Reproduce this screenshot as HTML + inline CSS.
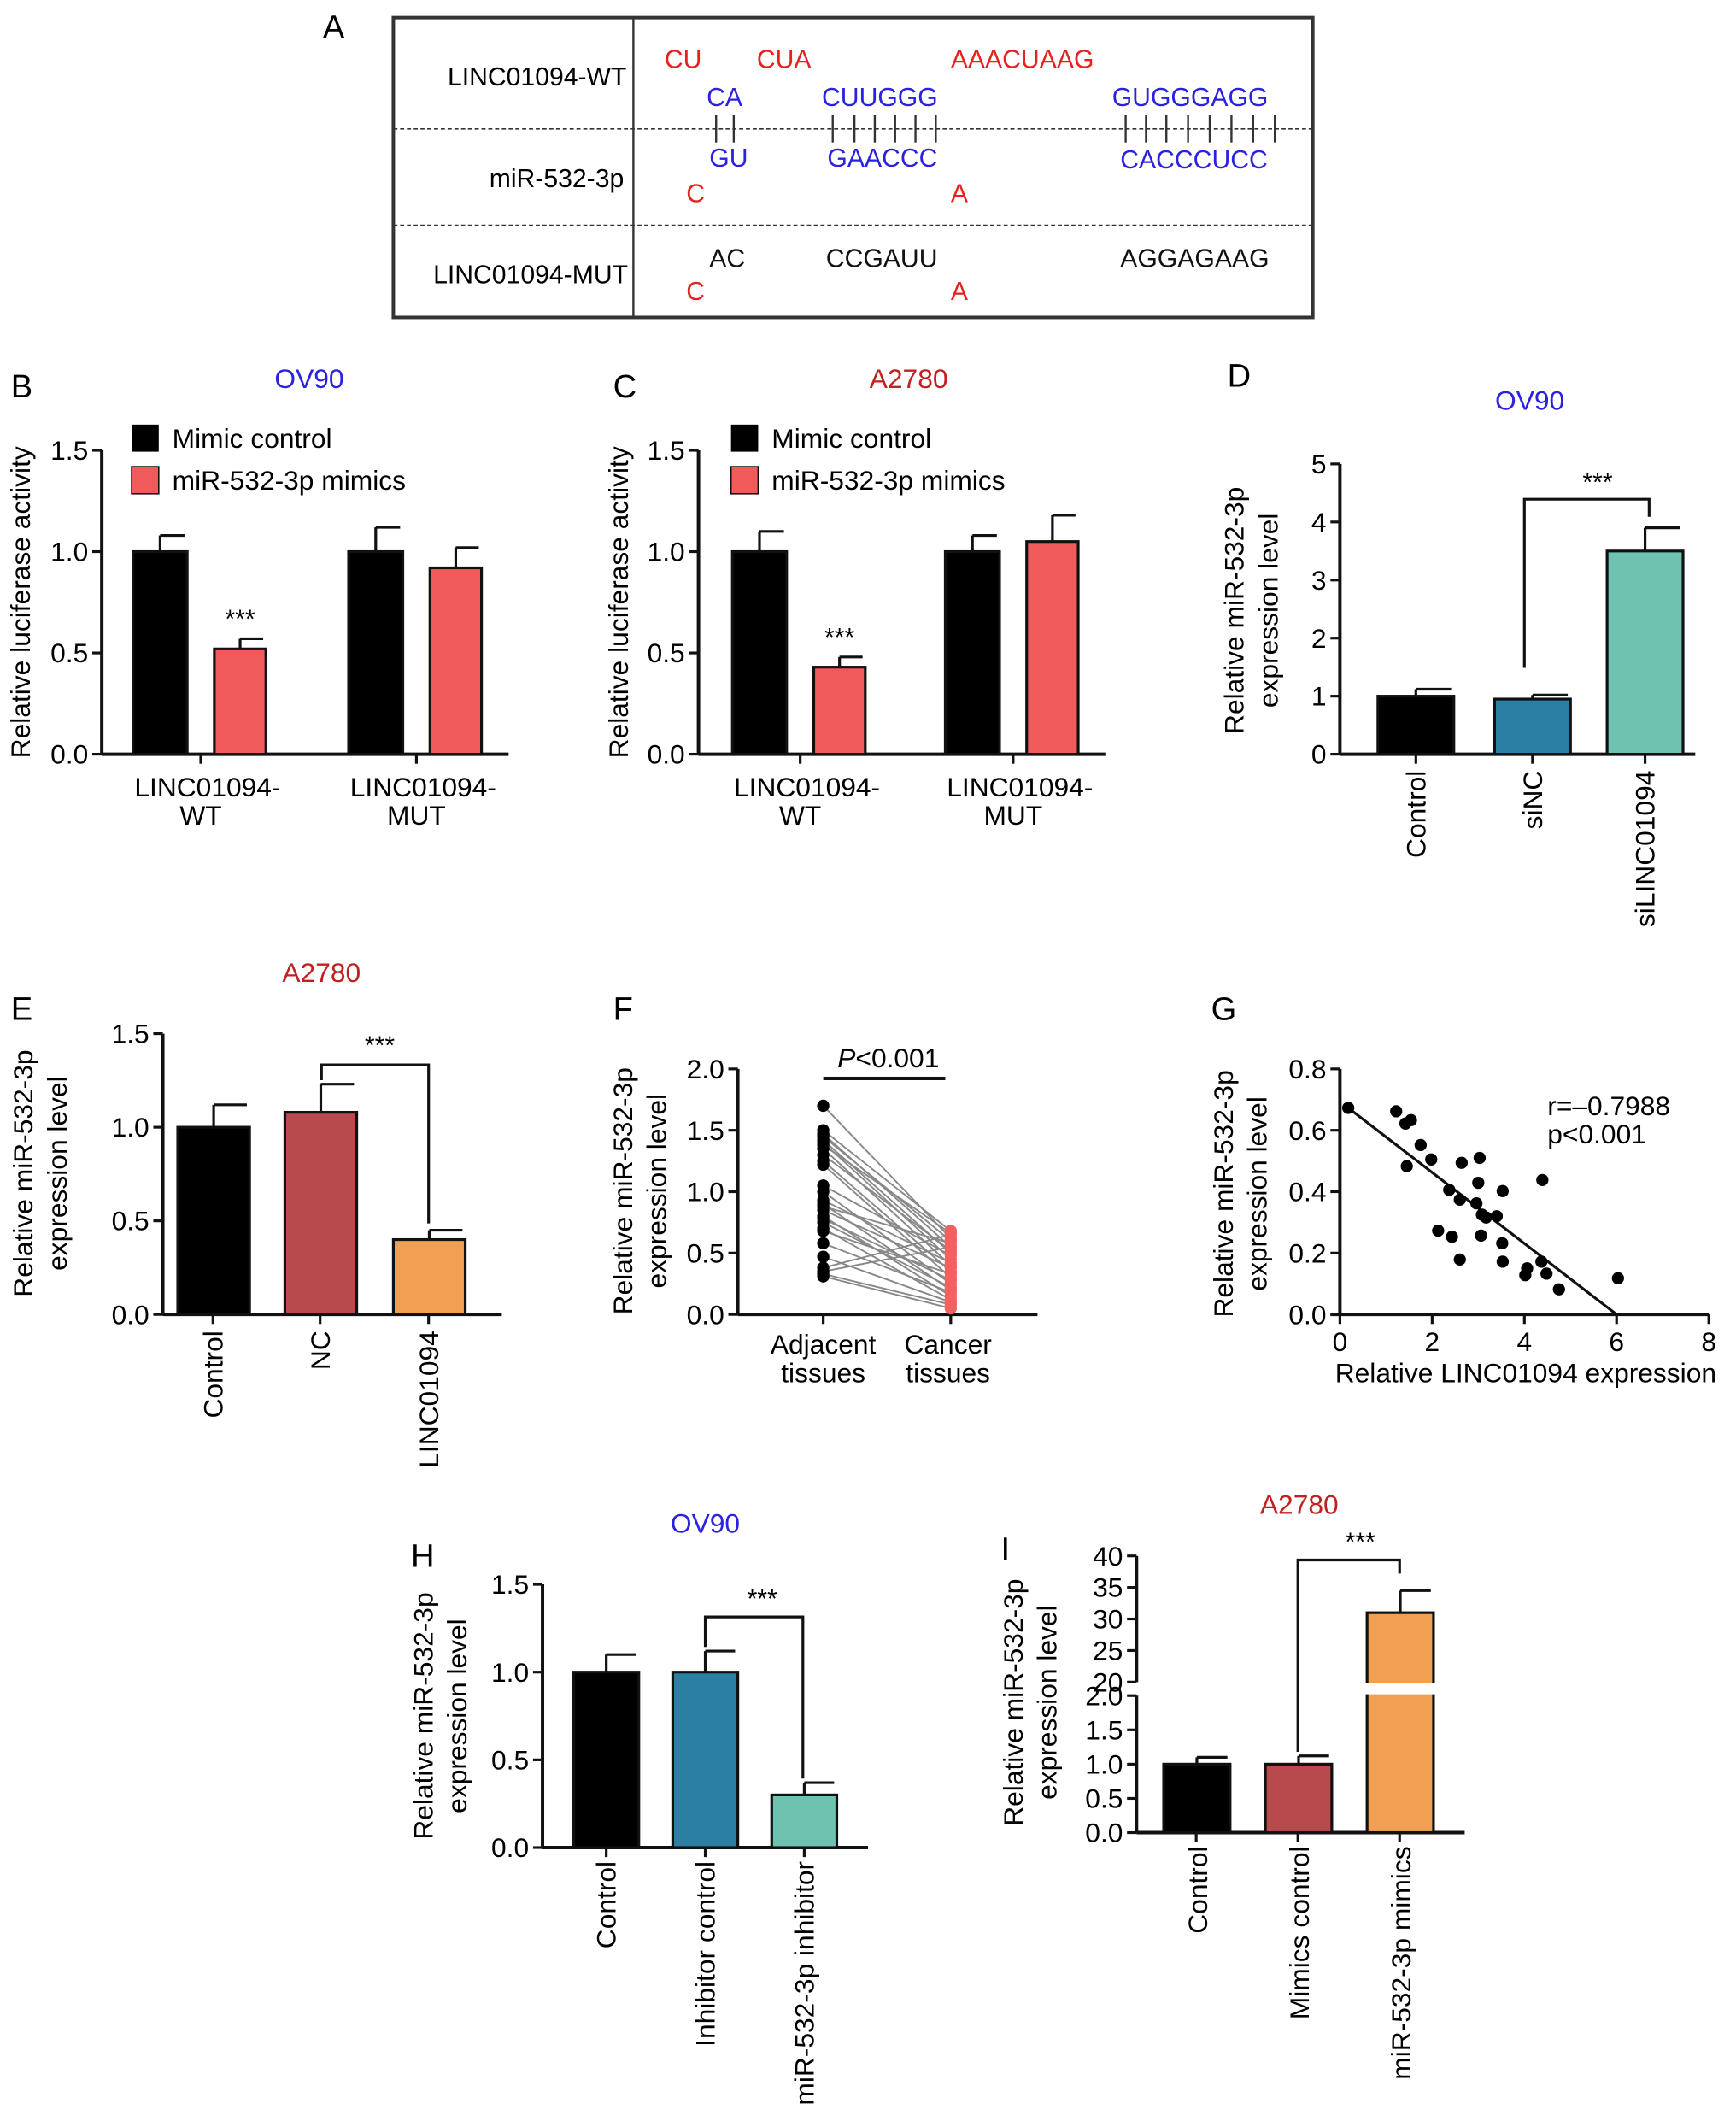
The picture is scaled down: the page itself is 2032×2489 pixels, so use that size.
<!DOCTYPE html>
<html><head><meta charset="utf-8"><style>
html,body{margin:0;padding:0;background:#fff;}
svg{display:block;font-family:"Liberation Sans",Arial,sans-serif;}
</style></head><body>
<svg id="fig" width="2032" height="2489" viewBox="0 0 1280 1568" xmlns="http://www.w3.org/2000/svg">
<g font-size="19">
<text x="238" y="28" font-size="24">A</text>
<rect x="290" y="13" width="678" height="221" fill="none" stroke="#333" stroke-width="2.5"/>
<line x1="467" y1="13" x2="467" y2="234" stroke="#333" stroke-width="1.5"/>
<line x1="290" y1="95" x2="968" y2="95" stroke="#333" stroke-dasharray="3,2"/>
<line x1="290" y1="166" x2="968" y2="166" stroke="#333" stroke-dasharray="3,2"/>
<text x="462" y="63" text-anchor="end">LINC01094-WT</text>
<text x="460" y="138" text-anchor="end">miR-532-3p</text>
<text x="463" y="209" text-anchor="end">LINC01094-MUT</text>
<g fill="#e8201f"><text x="490" y="50">CU</text><text x="558" y="50">CUA</text><text x="701" y="50">AAACUAAG</text>
<text x="506" y="149">C</text><text x="701" y="149">A</text><text x="506" y="221">C</text><text x="701" y="221">A</text></g>
<g fill="#2a22e0"><text x="521" y="78">CA</text><text x="606" y="78">CUUGGG</text><text x="820" y="78">GUGGGAGG</text>
<text x="523" y="123">GU</text><text x="610" y="123">GAACCC</text><text x="826" y="124">CACCCUCC</text></g>
<g fill="#111"><text x="523" y="197">AC</text><text x="609" y="197">CCGAUU</text><text x="826" y="197">AGGAGAAG</text></g>
<g stroke="#333" stroke-width="1.5" id="pairs"></g>
</g>
<g id="charts"></g>
</svg>
<script>
// ---- data arrays ----
const groupsB=["LINC01094-WT","LINC01094-MUT"];
const bControl=[1.0,1.0], bControlErr=[0.08,0.12];
const bMimic=[0.52,0.92], bMimicErr=[0.05,0.10];
const cControl=[1.0,1.0], cControlErr=[0.10,0.08];
const cMimic=[0.43,1.05], cMimicErr=[0.05,0.13];
const dCats=["Control","siNC","siLINC01094"], dVals=[1.0,0.95,3.5], dErr=[0.12,0.07,0.4];
const eCats=["Control","NC","LINC01094"], eVals=[1.0,1.08,0.40], eErr=[0.12,0.15,0.05];
const fAdj=[1.70,1.50,1.47,1.45,1.42,1.40,1.38,1.35,1.30,1.25,1.22,1.05,1.00,0.93,0.90,0.88,0.85,0.80,0.78,0.75,0.70,0.68,0.58,0.47,0.38,0.35,0.33,0.31];
const fCan=[0.62,0.68,0.55,0.60,0.50,0.45,0.66,0.40,0.52,0.35,0.30,0.48,0.25,0.42,0.20,0.58,0.38,0.15,0.28,0.22,0.12,0.33,0.18,0.10,0.65,0.55,0.08,0.05];
const gX=[0.18,1.22,1.42,1.54,1.75,1.98,1.45,2.64,3.03,3.0,4.39,2.37,2.6,2.96,3.08,3.17,3.4,3.53,2.13,2.43,3.06,3.52,2.6,3.53,4.37,4.06,4.02,4.48,4.75,6.03];
const gY=[0.673,0.662,0.622,0.633,0.552,0.505,0.483,0.494,0.510,0.429,0.438,0.406,0.374,0.362,0.325,0.316,0.320,0.402,0.273,0.253,0.257,0.232,0.179,0.172,0.172,0.150,0.128,0.133,0.082,0.118];
const gFit=[[0.18,0.673],[6.0,0.0]];
const hCats=["Control","Inhibitor control","miR-532-3p inhibitor"], hVals=[1.0,1.0,0.30], hErr=[0.10,0.12,0.07];
const iCats=["Control","Mimics control","miR-532-3p mimics"], iVals=[1.0,1.0,31.0], iErr=[0.1,0.12,3.5];
const ticks15=["0.0","0.5","1.0","1.5"];

const NS="http://www.w3.org/2000/svg";
const root=document.getElementById('charts');
function el(tag,attrs,parent,txt){const e=document.createElementNS(NS,tag);for(const k in attrs)e.setAttribute(k,attrs[k]);if(txt!==undefined)e.textContent=txt;(parent||root).appendChild(e);return e;}
function grp(name){const g=el('g',{});return g;}
const K="#111",SW=2.5;

const pairs=document.getElementById('pairs');
[528,541,614,630,645,660,675,690,830,845,860,876,892,908,924,940].forEach(x=>el('line',{x1:x,y1:85,x2:x,y2:105},pairs));

function yAxis(g,x,y0,y1,vmin,vmax,labels){
  el('line',{x1:x,y1:y0,x2:x,y2:y1,stroke:K,'stroke-width':SW},g);
  const sc=v=>y0-(v-vmin)/(vmax-vmin)*(y0-y1);
  labels.forEach((l,i)=>{const v=vmin+(vmax-vmin)*i/(labels.length-1);const y=sc(v);
    el('line',{x1:x-7,y1:y,x2:x,y2:y,stroke:K,'stroke-width':2},g);
    const t=el('text',{x:x-10,y:y+7,'text-anchor':'end','font-size':20},g,l);
    });
  return sc;
}
function bar(g,x0,x1,sc,v,e,color,name){
  const r=el('rect',{x:x0,y:sc(v),width:x1-x0,height:sc(0)-sc(v),fill:color,stroke:K,'stroke-width':2},g);
  
  const xm=(x0+x1)/2,ye=sc(v+e);
  el('line',{x1:xm,y1:sc(v),x2:xm,y2:ye,stroke:K,'stroke-width':2},g);
  el('line',{x1:xm,y1:ye,x2:x1-2,y2:ye,stroke:K,'stroke-width':2},g);
}
function txt(g,x,y,s,opts,name){const t=el('text',Object.assign({x:x,y:y,'font-size':19},opts||{}),g,s);return t;}
function ylab(g,x,y,lines){lines.forEach((l,i)=>txt(g,x+i*25,y,l,{transform:`rotate(-90 ${x+i*25} ${y})`,'text-anchor':'middle','font-size':20},'y-axis-title'));}
function rotLab(g,x,y,s){txt(g,x,y,s,{transform:`rotate(-90 ${x} ${y})`,'text-anchor':'end','font-size':20},'x-tick-label');}
function bracket(g,xa,ya,yt,xb,yb,sx,sy){el('polyline',{points:`${xa},${ya} ${xa},${yt} ${xb},${yt} ${xb},${yb}`,fill:'none',stroke:K,'stroke-width':2},g);txt(g,sx,sy,'***',{'text-anchor':'middle','font-size':19},'significance');}

// ---- B & C ----
function lucPanel(name,letter,lx,title,tcx,tcol,ax,axEnd,ylx,bx,ctl,ctlE,mim,mimE){
  const g=grp(name);
  txt(g,lx,293,letter,{'font-size':24},'panel-letter');
  txt(g,tcx,286,title,{'text-anchor':'middle','font-size':20,fill:tcol},'panel-title');
  const sc=yAxis(g,ax,556,332,0,1.5,ticks15);
  el('line',{x1:ax,y1:556,x2:axEnd,y2:556,stroke:K,'stroke-width':SW},g);
  groupsB.forEach((c,i)=>{
    bar(g,bx[i],bx[i]+40,sc,ctl[i],ctlE[i],'#000','bar-control-'+i);
    bar(g,bx[i]+60,bx[i]+98,sc,mim[i],mimE[i],'#f05a5a','bar-mimics-'+i);
    const xm=bx[i]+50;
    el('line',{x1:xm,y1:556,x2:xm,y2:563,stroke:K,'stroke-width':2},g);
    const p=c.split('-');
    txt(g,xm+5,587,p[0]+'-',{'text-anchor':'middle','font-size':20},'x-tick-label');
    txt(g,xm,608,p[1],{'text-anchor':'middle','font-size':20},'x-tick-label');
  });
  txt(g,bx[0]+79,sc(mim[0]+mimE[0])-8,'***',{'text-anchor':'middle'},'significance');
  el('rect',{x:bx[0]-1,y:313,width:20,height:20,fill:'#000'},g);
  txt(g,bx[0]+29,330,'Mimic control',{'font-size':20},'legend-entry');
  el('rect',{x:bx[0]-1,y:344,width:20,height:20,fill:'#f05a5a',stroke:K},g);
  txt(g,bx[0]+29,361,'miR-532-3p mimics',{'font-size':20},'legend-entry');
  txt(g,ylx,444,'Relative luciferase activity',{transform:`rotate(-90 ${ylx} 444)`,'text-anchor':'middle','font-size':20},'y-axis-title');
}
lucPanel('panel-b','B',8,'OV90',228,'#2a22e0',75,375,22,[98,257],bControl,bControlErr,bMimic,bMimicErr);
lucPanel('panel-c','C',452,'A2780',670,'#c0201f',515,815,463,[540,697],cControl,cControlErr,cMimic,cMimicErr);

// ---- D ----
(function(){const g=grp('panel-d');
 txt(g,905,285,'D',{'font-size':24},'panel-letter');
 txt(g,1128,302,'OV90',{'text-anchor':'middle','font-size':20,fill:'#2a22e0'},'panel-title');
 const sc=yAxis(g,988,556,342,0,5,["0","1","2","3","4","5"]);
 el('line',{x1:988,y1:556,x2:1250,y2:556,stroke:K,'stroke-width':SW},g);
 const cols=['#000','#2a7fa3','#6fc1b0'],xs=[1016,1102,1185];
 dCats.forEach((c,i)=>{bar(g,xs[i],xs[i]+56,sc,dVals[i],dErr[i],cols[i],'bar-'+c);rotLab(g,xs[i]+35,568,c);
   el('line',{x1:xs[i]+28,y1:556,x2:xs[i]+28,y2:563,stroke:K,'stroke-width':2},g);});
 bracket(g,1124,sc(dVals[1]+dErr[1])-20,368,1216,381,1178,362);
 ylab(g,917,450,['Relative miR-532-3p','expression level']);
})();

// ---- E ----
(function(){const g=grp('panel-e');
 txt(g,8,752,'E',{'font-size':24},'panel-letter');
 txt(g,237,724,'A2780',{'text-anchor':'middle','font-size':20,fill:'#c0201f'},'panel-title');
 const sc=yAxis(g,120,969,762,0,1.5,ticks15);
 el('line',{x1:120,y1:969,x2:370,y2:969,stroke:K,'stroke-width':SW},g);
 const cols=['#000','#b84a4e','#f0a050'],xs=[131,210,290];
 eCats.forEach((c,i)=>{bar(g,xs[i],xs[i]+53,sc,eVals[i],eErr[i],cols[i],'bar-'+c);rotLab(g,xs[i]+33,981,c);
   el('line',{x1:xs[i]+26,y1:969,x2:xs[i]+26,y2:976,stroke:K,'stroke-width':2},g);});
 bracket(g,237,sc(eVals[1]+eErr[1])-3,785,316,sc(eVals[2]+eErr[2])-5,280,777);
 ylab(g,24,865,['Relative miR-532-3p','expression level']);
})();

// ---- F ----
(function(){const g=grp('panel-f');
 txt(g,452,752,'F',{'font-size':24},'panel-letter');
 const sc=yAxis(g,544,969,788,0,2,["0.0","0.5","1.0","1.5","2.0"]);
 el('line',{x1:544,y1:969,x2:765,y2:969,stroke:K,'stroke-width':SW},g);
 const xa=607,xc=701;
 [xa,xc].forEach(x=>el('line',{x1:x,y1:969,x2:x,y2:976,stroke:K,'stroke-width':2},g));
 fAdj.forEach((v,i)=>{const l=el('line',{x1:xa,y1:sc(v),x2:xc,y2:sc(fCan[i]),stroke:'#888','stroke-width':1.2},g);});
 fAdj.forEach(v=>{const c=el('circle',{cx:xa,cy:sc(v),r:4.5,fill:'#000'},g);});
 fCan.forEach(v=>{const c=el('circle',{cx:xc,cy:sc(v),r:4.5,fill:'#f26060'},g);});
 el('line',{x1:607,y1:795,x2:697,y2:795,stroke:K,'stroke-width':2.5},g);
 const p=txt(g,655,787,'',{'text-anchor':'middle','font-size':20},'p-value');
 el('tspan',{'font-style':'italic'},p,'P');el('tspan',{},p,'<0.001');
 txt(g,607,998,'Adjacent',{'text-anchor':'middle','font-size':20},'x-tick-label');
 txt(g,607,1019,'tissues',{'text-anchor':'middle','font-size':20},'x-tick-label');
 txt(g,699,998,'Cancer',{'text-anchor':'middle','font-size':20},'x-tick-label');
 txt(g,699,1019,'tissues',{'text-anchor':'middle','font-size':20},'x-tick-label');
 ylab(g,466,878,['Relative miR-532-3p','expression level']);
})();

// ---- G ----
(function(){const g=grp('panel-g');
 txt(g,893,752,'G',{'font-size':24},'panel-letter');
 const sc=yAxis(g,988,969,788,0,0.8,["0.0","0.2","0.4","0.6","0.8"]);
 const x0=988,x1=1260,sx=v=>x0+v/8*(x1-x0);
 el('line',{x1:x0-7,y1:969,x2:x1,y2:969,stroke:K,'stroke-width':SW},g);
 [0,2,4,6,8].forEach(v=>{el('line',{x1:sx(v),y1:969,x2:sx(v),y2:976,stroke:K,'stroke-width':2},g);
   txt(g,sx(v),996,String(v),{'text-anchor':'middle','font-size':20},'x-tick-label');});
 el('line',{x1:sx(gFit[0][0]),y1:sc(gFit[0][1]),x2:sx(gFit[1][0]),y2:sc(gFit[1][1]),stroke:K,'stroke-width':2},g);
 gX.forEach((v,i)=>{const c=el('circle',{cx:sx(v),cy:sc(gY[i]),r:4.5,fill:'#000'},g);});
 txt(g,1141,822,'r=–0.7988',{'font-size':20},'correlation-r');
 txt(g,1141,843,'p<0.001',{'font-size':20},'p-value');
 txt(g,1125,1019,'Relative LINC01094 expression',{'text-anchor':'middle','font-size':20},'x-axis-title');
 ylab(g,909,880,['Relative miR-532-3p','expression level']);
})();

// ---- H ----
(function(){const g=grp('panel-h');
 txt(g,303,1155,'H',{'font-size':24},'panel-letter');
 txt(g,520,1130,'OV90',{'text-anchor':'middle','font-size':20,fill:'#2a22e0'},'panel-title');
 const sc=yAxis(g,400,1362,1168,0,1.5,ticks15);
 el('line',{x1:400,y1:1362,x2:640,y2:1362,stroke:K,'stroke-width':SW},g);
 const cols=['#000','#2a7fa3','#6fc1b0'],xs=[423,496,569];
 hCats.forEach((c,i)=>{bar(g,xs[i],xs[i]+48,sc,hVals[i],hErr[i],cols[i],'bar-'+c);rotLab(g,xs[i]+31,1372,c);
   el('line',{x1:xs[i]+24,y1:1362,x2:xs[i]+24,y2:1369,stroke:K,'stroke-width':2},g);});
 bracket(g,520,sc(hVals[1]+hErr[1])-3,1192,592,sc(hVals[2]+hErr[2])-3,562,1185);
 ylab(g,319,1265,['Relative miR-532-3p','expression level']);
})();

// ---- I (broken axis) ----
(function(){const g=grp('panel-i');
 txt(g,738,1150,'I',{'font-size':24},'panel-letter');
 txt(g,958,1116,'A2780',{'text-anchor':'middle','font-size':20,fill:'#c0201f'},'panel-title');
 const lo=yAxis(g,838,1351,1250,0,2,["0.0","0.5","1.0","1.5","2.0"]);
 const hi=yAxis(g,838,1240,1147,20,40,["20","25","30","35","40"]);
 const sc=v=>v<=2?lo(v):hi(Math.max(v,20));
 el('line',{x1:838,y1:1351,x2:1080,y2:1351,stroke:K,'stroke-width':SW},g);
 const cols=['#000','#b84a4e','#f0a050'],xs=[858,933,1008];
 iCats.forEach((c,i)=>{
   if(iVals[i]>2){
     const r=el('rect',{x:xs[i],y:hi(iVals[i]),width:49,height:1351-hi(iVals[i]),fill:cols[i],stroke:K,'stroke-width':2},g);
     
     el('rect',{x:xs[i]-2,y:1241,width:53,height:8,fill:'#fff'},g);
     const xm=xs[i]+24.5,ye=hi(iVals[i]+iErr[i]);
     el('line',{x1:xm,y1:hi(iVals[i]),x2:xm,y2:ye,stroke:K,'stroke-width':2},g);
     el('line',{x1:xm,y1:ye,x2:xs[i]+47,y2:ye,stroke:K,'stroke-width':2},g);
   } else bar(g,xs[i],xs[i]+49,sc,iVals[i],iErr[i],cols[i],'bar-'+c);
   rotLab(g,xs[i]+32,1361,c);
   el('line',{x1:xs[i]+24,y1:1351,x2:xs[i]+24,y2:1358,stroke:K,'stroke-width':2},g);});
 bracket(g,957,lo(iVals[1]+iErr[1])-3,1150,1032,1160,1003,1143);
 ylab(g,754,1255,['Relative miR-532-3p','expression level']);
})();
</script>
</body></html>
